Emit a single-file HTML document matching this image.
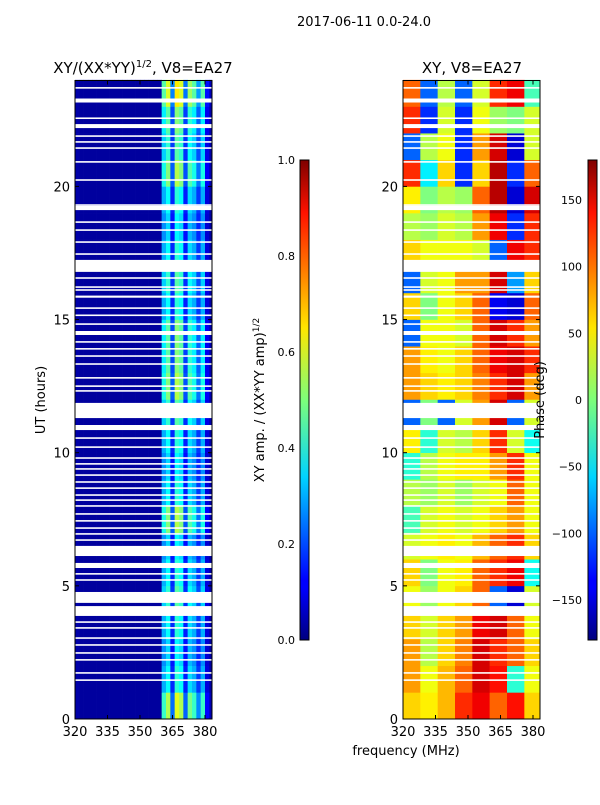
<!DOCTYPE html>
<html><head><meta charset="utf-8"><style>
body{margin:0;background:#fff;}
svg text{font-family:"DejaVu Sans","Liberation Sans",sans-serif;}
</style></head><body>
<svg id="fig" width="600" height="800" viewBox="0 0 600 800" xmlns="http://www.w3.org/2000/svg">
<defs>
<linearGradient id="jet" x1="0" y1="1" x2="0" y2="0">
<stop offset="0" stop-color="#00007f"/><stop offset="0.11" stop-color="#0000ff"/><stop offset="0.125" stop-color="#0000ff"/>
<stop offset="0.34" stop-color="#00d4ff"/><stop offset="0.5" stop-color="#7dff7a"/><stop offset="0.65" stop-color="#ffe600"/>
<stop offset="0.89" stop-color="#ff1200"/><stop offset="1" stop-color="#7f0000"/>
</linearGradient>
</defs>
<text x="364" y="26" font-size="13" text-anchor="middle">2017-06-11 0.0-24.0</text>
<text x="143" y="73" font-size="15" text-anchor="middle">XY/(XX*YY)<tspan font-size="10" dy="-6">1/2</tspan><tspan dy="6">, V8=EA27</tspan></text>
<text x="472" y="73" font-size="15" text-anchor="middle">XY, V8=EA27</text>
<g id="left"></g>
<g id="right"></g>
<g id="axes"></g>
<text transform="translate(45,400) rotate(-90)" font-size="13" text-anchor="middle">UT (hours)</text>
<text x="406" y="755" font-size="13" text-anchor="middle">frequency (MHz)</text>
<rect x="300" y="160" width="9" height="480" fill="url(#jet)" stroke="#000" stroke-width="1"/>
<rect x="588" y="160" width="9" height="480" fill="url(#jet)" stroke="#000" stroke-width="1"/>
<text transform="translate(264,400) rotate(-90)" font-size="13" text-anchor="middle">XY amp. / (XX*YY amp)<tspan font-size="9" dy="-5">1/2</tspan></text>
<text transform="translate(544,400) rotate(-90)" font-size="13" text-anchor="middle">Phase (deg)</text>
</svg>
<script>
const hourTicks=[0,5,10,15,20];
const freqTicks=[320,335,350,365,380];
const ampTicks=[0.0,0.2,0.4,0.6,0.8,1.0];
const phaseTicks=[-150,-100,-50,0,50,100,150];
// flagged (white) intervals in hours
const flagged=[[23.67,23.73],[23.21,23.30],[23.15,23.29],[22.53,22.59],[22.19,22.34],[21.86,21.92],[21.64,21.70],[21.41,21.47],[20.89,20.95],[20.21,20.27],[19.27,19.33],[19.11,19.27],[18.63,18.69],[18.33,18.39],[17.88,17.94],[17.43,17.49],[16.79,17.24],[16.53,16.59],[16.19,16.25],[16.08,16.14],[15.82,15.90],[15.40,15.46],[15.13,15.19],[14.80,14.86],[14.42,14.57],[14.13,14.19],[13.87,13.93],[13.60,13.66],[13.30,13.36],[12.78,12.84],[12.47,12.53],[12.29,12.35],[11.30,11.87],[10.85,11.04],[10.52,10.58],[10.18,10.24],[9.77,9.83],[9.55,9.61],[9.36,9.42],[9.13,9.19],[8.87,8.93],[8.64,8.70],[8.38,8.44],[8.19,8.25],[7.97,8.03],[7.67,7.73],[7.41,7.47],[7.14,7.20],[6.92,6.98],[6.69,6.75],[6.12,6.50],[5.67,5.86],[5.42,5.48],[5.19,5.25],[4.36,4.77],[3.87,4.24],[3.61,3.67],[3.39,3.45],[3.01,3.07],[2.75,2.81],[2.45,2.51],[2.19,2.25],[1.70,1.76],[1.43,1.49]];
// amplitude: frequency bins (MHz starts, 2 MHz wide) and spectral profile
const ampFreqs=[320,322,324,326,328,330,332,334,336,338,340,342,344,346,348,350,352,354,356,358,360,362,364,366,368,370,372,374,376,378,380,382];
const ampProfile=[0.04,0.03,0.03,0.03,0.03,0.03,0.03,0.03,0.03,0.03,0.03,0.03,0.03,0.03,0.03,0.03,0.03,0.03,0.03,0.03,0.33,0.42,0.18,0.46,0.42,0.17,0.38,0.33,0.2,0.33,0.1,0.04];
const ampHourScale=[1.3,0.9,0.8,0.9,1.0,0.9,0.8,1.2,0.9,0.8,0.9,1.0,1.2,1.1,1.1,0.9,1.0,0.9,0.8,0.9,1.2,1.0,1.1,1.4];
// phase (deg): rows hour 0..23, columns 8 freq bins of 8 MHz from 320
const phaseFreqs=[320,328,336,344,352,360,368,376];
const phase=[
[60,50,70,120,140,100,130,60],
[80,40,70,100,150,130,-30,40],
[80,20,60,90,150,120,100,60],
[60,30,60,80,140,150,100,40],
[40,10,40,60,100,-100,-150,30],
[60,0,40,50,100,120,140,-40],
[30,40,50,40,70,100,120,60],
[-20,30,40,30,40,60,80,40],
[20,10,30,10,30,40,100,40],
[-30,20,40,50,50,80,120,40],
[50,-30,30,20,60,120,30,-40],
[-100,0,-100,30,80,150,-100,30],
[80,60,50,60,90,120,150,80],
[80,50,40,60,100,140,150,120],
[-100,40,40,30,100,150,120,80],
[60,0,40,60,100,-140,-150,100],
[-100,30,40,80,80,150,-80,60],
[60,40,40,40,30,-100,140,120],
[20,10,30,20,80,140,-120,120],
[50,0,20,10,100,160,-150,150],
[120,-50,60,-120,60,160,-120,100],
[-100,20,40,-120,80,150,-150,30],
[120,-120,30,-120,40,10,0,30],
[100,-100,20,-100,30,120,140,-20]];

const NS='http://www.w3.org/2000/svg';
const Y0=719,PXH=26.63,F0=320,PXF=32.5/15,FMAX=320+137/PXF;
const yOf=h=>Y0-h*PXH;
const xOf=(f,L)=>L+(f-F0)*PXF;
function jet(v){v=Math.max(0,Math.min(1,v));
 const c=x=>Math.round(255*Math.max(0,Math.min(1,1.5-Math.abs(4*v-x))));
 return `rgb(${c(3)},${c(2)},${c(1)})`;}
function el(tag,attrs,parent){const e=document.createElementNS(NS,tag);for(const k in attrs)e.setAttribute(k,attrs[k]);parent.appendChild(e);return e;}
const L=document.getElementById('left'),R=document.getElementById('right'),A=document.getElementById('axes');
for(let h=0;h<24;h++){for(let i=0;i<ampFreqs.length;i++){
 const f1=ampFreqs[i],f2=Math.min(FMAX,f1+2);
 const r=el('rect',{x:xOf(f1,75),y:yOf(h+1),width:xOf(f2,75)-xOf(f1,75)+0.3,height:PXH+0.3,fill:jet(ampProfile[i]*(i>=20?ampHourScale[h]:1))},L);
 
 
}}
for(let h=0;h<24;h++){for(let i=0;i<phaseFreqs.length;i++){
 const f1=phaseFreqs[i],f2=Math.min(FMAX,f1+8);
 const r=el('rect',{x:xOf(f1,403),y:yOf(h+1),width:xOf(f2,403)-xOf(f1,403)+0.3,height:PXH+0.3,fill:jet((phase[h][i]+180)/360)},R);
 
 
}}
for(const [a,b] of flagged){for(const [g,x0] of [[L,75],[R,403]]){
 const r=el('rect',{x:x0,y:yOf(b),width:137,height:Math.max(1.2,(b-a)*PXH),fill:'#fff'},g);
 
 
}}
for(const x0 of [75,403]){
 const f=el('rect',{x:x0,y:80.5,width:137,height:638.5,fill:'none',stroke:'#000','stroke-width':1},A);
 
 
 for(const h of hourTicks){
  el('line',{x1:x0,x2:x0+4,y1:yOf(h),y2:yOf(h),stroke:'#000'},A);
  el('line',{x1:x0+133,x2:x0+137,y1:yOf(h),y2:yOf(h),stroke:'#000'},A);
  const t=el('text',{x:x0-5,y:yOf(h)+5,'font-size':13,'text-anchor':'end'},A);t.textContent=h;
  
  
 }
 for(const fq of freqTicks){const x=xOf(fq,x0);
  el('line',{x1:x,x2:x,y1:719,y2:715,stroke:'#000'},A);
  el('line',{x1:x,x2:x,y1:80.5,y2:84.5,stroke:'#000'},A);
  const t=el('text',{x:x,y:736,'font-size':13,'text-anchor':'middle'},A);t.textContent=fq;
  
  
 }
}
for(const v of ampTicks){const y=640-v*480;
 el('line',{x1:305,x2:309,y1:y,y2:y,stroke:'#000'},A);
 const t=el('text',{x:295,y:y+4,'font-size':11,'text-anchor':'end'},A);t.textContent=v.toFixed(1);
 
 
}
for(const v of phaseTicks){const y=400-v*480/360;
 el('line',{x1:593,x2:597,y1:y,y2:y,stroke:'#000'},A);
 const t=el('text',{x:582,y:y+4,'font-size':11,'text-anchor':'end'},A);t.textContent=v<0?'\u2212'+(-v):v;
 
 
}
</script>
</body></html>
